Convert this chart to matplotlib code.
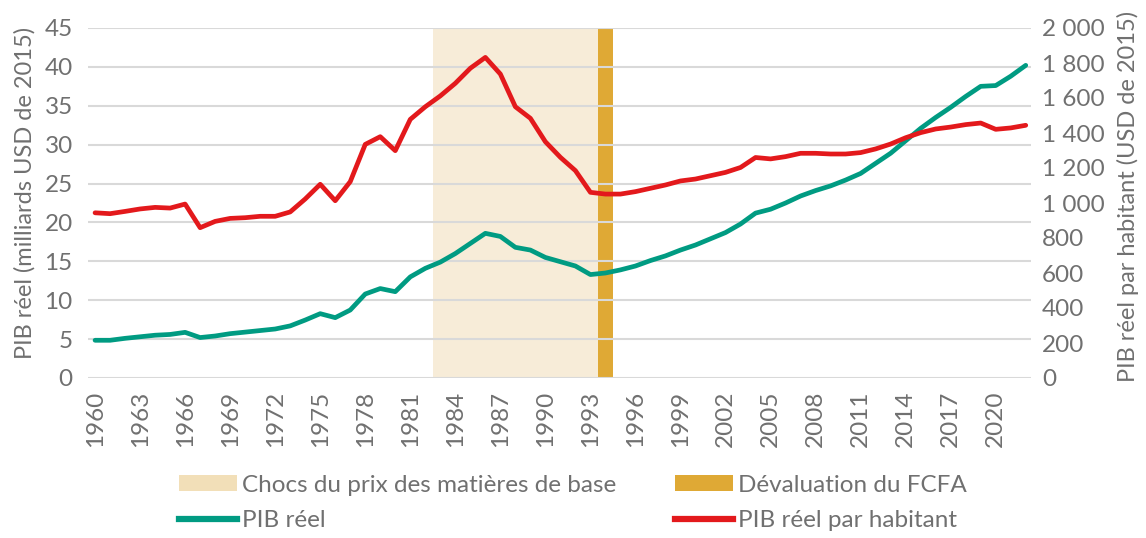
import matplotlib.pyplot as plt
import matplotlib.ticker as mticker
from matplotlib.patches import Patch
from matplotlib.lines import Line2D

plt.rcParams["font.family"] = ["Lato", "DejaVu Sans"]

years = list(range(1960, 2023))

# PIB réel (milliards USD de 2015) - axe gauche
pib_reel = [
    4.85, 4.85, 5.1, 5.3, 5.5, 5.6, 5.87, 5.2, 5.4, 5.7,
    5.9, 6.1, 6.3, 6.7, 7.45, 8.27, 7.76, 8.74, 10.8, 11.5,
    11.1, 13.0, 14.1, 14.9, 16.0, 17.3, 18.6, 18.2, 16.8, 16.45,
    15.5, 14.95, 14.4, 13.3, 13.5, 13.9, 14.4, 15.1, 15.7, 16.45,
    17.1, 17.9, 18.7, 19.8, 21.2, 21.7, 22.5, 23.4, 24.1, 24.7,
    25.45, 26.3, 27.6, 28.9, 30.5, 32.1, 33.5, 34.8, 36.2, 37.5,
    37.6, 38.8, 40.2,
]

# PIB réel par habitant (USD de 2015) - axe droit
pib_hab = [
    944, 939, 952, 966, 975, 971, 994, 859, 895, 912,
    916, 924, 924, 949, 1023, 1107, 1013, 1122, 1335, 1379,
    1299, 1478, 1550, 1612, 1684, 1770, 1832, 1737, 1550, 1484,
    1350, 1261, 1185, 1061, 1051, 1051, 1065, 1084, 1103, 1126,
    1137, 1156, 1175, 1203, 1260, 1252, 1265, 1284, 1284, 1280,
    1280, 1288, 1309, 1337, 1373, 1402, 1423, 1434, 1448, 1457,
    1421, 1429, 1444,
]

chocs = (1982.5, 1993.5)
devaluation = (1993.5, 1994.5)

GREEN = "#009B82"
RED = "#E3191C"
BEIGE = "#F7ECD8"
BEIGE_LEG = "#F2DFB8"
GOLD = "#DFA935"
GREY = "#707070"
GRID = "#D9D9D9"

fig = plt.figure(figsize=(11.46, 5.38), dpi=100)
ax = fig.add_axes([88 / 1146, 1 - 378 / 538, (1031 - 88) / 1146, 350 / 538])
ax2 = ax.twinx()

ax.axvspan(*chocs, color=BEIGE, lw=0, zorder=0)
ax.axvspan(*devaluation, color=GOLD, lw=0, zorder=0)

ax.plot(years, pib_reel, color=GREEN, lw=3.4, solid_capstyle="round", zorder=3)
ax2.plot(years, pib_hab, color=RED, lw=3.4, solid_capstyle="round", zorder=3)

ax.set_xlim(1959.53, 2022.35)
ax.set_ylim(0, 45)
ax2.set_ylim(0, 2000)
ax.set_yticks(range(0, 46, 5))
ax2.set_yticks(range(0, 2001, 200))
ax.set_xticks(range(1960, 2022, 3))
ax2.yaxis.set_major_formatter(
    mticker.FuncFormatter(lambda v, _: f"{int(v):,}".replace(",", " "))
)

ax.grid(axis="y", color=GRID, lw=1.5, zorder=1)
ax.set_axisbelow(True)
for a in (ax, ax2):
    for s in a.spines.values():
        s.set_visible(False)
    a.tick_params(length=0, labelsize=17.5, labelcolor=GREY)
ax.tick_params(axis="x", rotation=90, pad=9)
ax.tick_params(axis="y", pad=11)
ax2.tick_params(axis="y", pad=8)

ax.set_ylabel("PIB réel (milliards USD de 2015)", fontsize=17, color=GREY)
ax.yaxis.set_label_coords(-0.056, 0.53)
ax2.set_ylabel("PIB réel par habitant (USD de 2015)", fontsize=17, color=GREY,
               rotation=90)
ax2.yaxis.set_label_coords(1.091, 0.52)

handles = [
    Patch(facecolor=BEIGE_LEG, edgecolor="none"),
    Line2D([], [], color=GREEN, lw=4.5),
    Patch(facecolor=GOLD, edgecolor="none"),
    Line2D([], [], color=RED, lw=4.5),
]
labels = ["Chocs du prix des matières de base", "PIB réel",
          "Dévaluation du FCFA", "PIB réel par habitant"]
leg = fig.legend(handles, labels, ncol=2, loc="center",
                 bbox_to_anchor=(573 / 1146, 1 - 503 / 538),
                 frameon=False, fontsize=17.5, handlelength=2.4,
                 handleheight=0.65, handletextpad=0.2, columnspacing=2.4,
                 labelspacing=0.6)
for t in leg.get_texts():
    t.set_color(GREY)

fig.savefig("out.png", dpi=100)
